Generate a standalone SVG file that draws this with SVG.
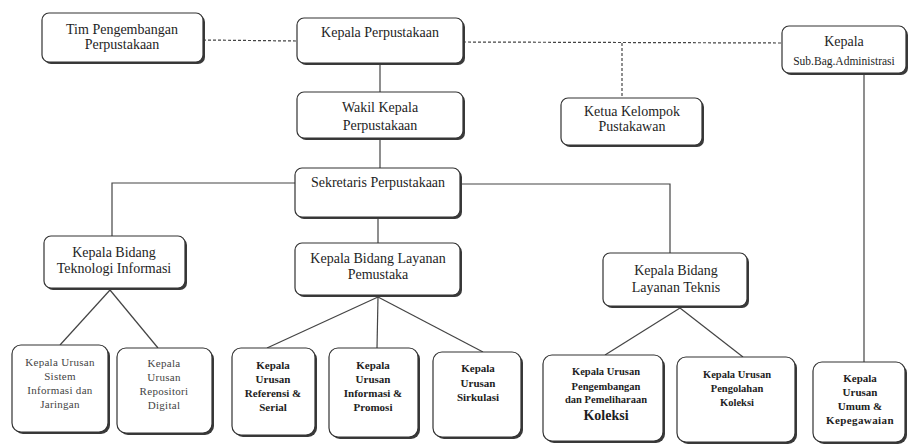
<svg xmlns="http://www.w3.org/2000/svg" width="911" height="445" viewBox="0 0 911 445">
<style>
.sh{fill:#3a3a3a}
.bx{fill:#fff;stroke:#333;stroke-width:1.2}
.t{fill:#1e1e1e;text-anchor:middle;font-size:14px}
.s{fill:#444;text-anchor:middle;font-size:11px;letter-spacing:0.3px}
.b{fill:#222;text-anchor:middle;font-size:11px;font-weight:bold}
.c{fill:#222;text-anchor:middle;font-size:10.5px;font-weight:bold}
.ln{stroke:#444;stroke-width:1.2;fill:none}
.dl{stroke:#444;stroke-width:1.2;fill:none;stroke-dasharray:3 2}
</style>
<rect width="911" height="445" fill="#fff"/>
<g font-family="Liberation Serif" style="font-family:'Liberation Serif',serif">
<g id="connectors">
<line class="dl" x1="203" y1="40" x2="297" y2="41"/>
<line class="dl" x1="463" y1="42" x2="782" y2="43"/>
<line class="dl" x1="622" y1="43" x2="622" y2="98"/>
<line class="ln" x1="380" y1="63" x2="380" y2="92"/>
<line class="ln" x1="380" y1="138" x2="380" y2="168"/>
<polyline class="ln" points="295,183 112,183 112,236"/>
<polyline class="ln" points="460,184 670,184 670,253"/>
<line class="ln" x1="378" y1="217" x2="378" y2="243"/>
<line class="ln" x1="864" y1="73" x2="864" y2="362"/>
<line class="ln" x1="110" y1="290" x2="60" y2="345"/>
<line class="ln" x1="110" y1="290" x2="158" y2="348"/>
<line class="ln" x1="378" y1="297" x2="267" y2="348"/>
<line class="ln" x1="378" y1="297" x2="377" y2="348"/>
<line class="ln" x1="378" y1="297" x2="483" y2="352"/>
<line class="ln" x1="680" y1="308" x2="605" y2="355"/>
<line class="ln" x1="680" y1="308" x2="743" y2="357"/>
</g>
<g id="tim">
<rect class="sh" x="44" y="15" width="161" height="49" rx="7"/>
<rect class="bx" x="42" y="13" width="161" height="49" rx="7"/>
<text class="t" x="122" y="34">Tim Pengembangan</text>
<text class="t" x="122" y="49">Perpustakaan</text>
</g>
<g id="kepala">
<rect class="sh" x="299" y="20" width="166" height="45" rx="7"/>
<rect class="bx" x="297" y="18" width="166" height="45" rx="7"/>
<text class="t" x="380" y="37">Kepala Perpustakaan</text>
</g>
<g id="subbag">
<rect class="sh" x="784" y="28" width="124" height="47" rx="7"/>
<rect class="bx" x="782" y="26" width="124" height="47" rx="7"/>
<text class="t" x="844" y="46">Kepala</text>
<text class="t" x="844" y="65" style="font-size:11.5px">Sub.Bag.Administrasi</text>
</g>
<g id="wakil">
<rect class="sh" x="299" y="94" width="166" height="46" rx="7"/>
<rect class="bx" x="297" y="92" width="166" height="46" rx="7"/>
<text class="t" x="380" y="112">Wakil Kepala</text>
<text class="t" x="380" y="130">Perpustakaan</text>
</g>
<g id="ketua">
<rect class="sh" x="563" y="100" width="141" height="47" rx="7"/>
<rect class="bx" x="561" y="98" width="141" height="47" rx="7"/>
<text class="t" x="632" y="116">Ketua Kelompok</text>
<text class="t" x="632" y="131">Pustakawan</text>
</g>
<g id="sekretaris">
<rect class="sh" x="297" y="170" width="165" height="49" rx="7"/>
<rect class="bx" x="295" y="168" width="165" height="49" rx="7"/>
<text class="t" x="378" y="187">Sekretaris Perpustakaan</text>
</g>
<g id="bid-ti">
<rect class="sh" x="46" y="238" width="141" height="52" rx="7"/>
<rect class="bx" x="44" y="236" width="141" height="52" rx="7"/>
<text class="t" x="114" y="257">Kepala Bidang</text>
<text class="t" x="114" y="273">Teknologi Informasi</text>
</g>
<g id="bid-pemustaka">
<rect class="sh" x="297" y="245" width="165" height="52" rx="7"/>
<rect class="bx" x="295" y="243" width="165" height="52" rx="7"/>
<text class="t" x="378" y="263">Kepala Bidang Layanan</text>
<text class="t" x="378" y="279">Pemustaka</text>
</g>
<g id="bid-teknis">
<rect class="sh" x="605" y="255" width="144" height="53" rx="7"/>
<rect class="bx" x="603" y="253" width="144" height="53" rx="7"/>
<text class="t" x="676" y="275">Kepala Bidang</text>
<text class="t" x="676" y="292">Layanan Teknis</text>
</g>
<g id="ur-sistem">
<rect class="sh" x="14" y="347" width="96" height="87" rx="9"/>
<rect class="bx" x="12" y="345" width="96" height="87" rx="9"/>
<text class="s" x="60" y="366">Kepala Urusan</text>
<text class="s" x="60" y="380">Sistem</text>
<text class="s" x="60" y="394">Informasi dan</text>
<text class="s" x="60" y="408">Jaringan</text>
</g>
<g id="ur-repositori">
<rect class="sh" x="119" y="350" width="95" height="85" rx="9"/>
<rect class="bx" x="117" y="348" width="95" height="85" rx="9"/>
<text class="s" x="164" y="367">Kepala</text>
<text class="s" x="164" y="381">Urusan</text>
<text class="s" x="164" y="395">Repositori</text>
<text class="s" x="164" y="409">Digital</text>
</g>
<g id="ur-referensi">
<rect class="sh" x="234" y="350" width="83" height="87" rx="9"/>
<rect class="bx" x="232" y="348" width="83" height="87" rx="9"/>
<text class="b" x="273" y="369">Kepala</text>
<text class="b" x="273" y="383">Urusan</text>
<text class="b" x="273" y="397">Referensi &amp;</text>
<text class="b" x="273" y="411">Serial</text>
</g>
<g id="ur-informasi">
<rect class="sh" x="331" y="350" width="89" height="89" rx="9"/>
<rect class="bx" x="329" y="348" width="89" height="89" rx="9"/>
<text class="b" x="373" y="369">Kepala</text>
<text class="b" x="373" y="383">Urusan</text>
<text class="b" x="373" y="397">Informasi &amp;</text>
<text class="b" x="373" y="411">Promosi</text>
</g>
<g id="ur-sirkulasi">
<rect class="sh" x="435" y="354" width="88" height="85" rx="9"/>
<rect class="bx" x="433" y="352" width="88" height="85" rx="9"/>
<text class="b" x="478" y="372">Kepala</text>
<text class="b" x="478" y="387">Urusan</text>
<text class="b" x="478" y="401">Sirkulasi</text>
</g>
<g id="ur-pengembangan">
<rect class="sh" x="545" y="357" width="120" height="86" rx="9"/>
<rect class="bx" x="543" y="355" width="120" height="86" rx="9"/>
<text class="c" x="606" y="375">Kepala Urusan</text>
<text class="c" x="606" y="390">Pengembangan</text>
<text class="c" x="606" y="403">dan Pemeliharaan</text>
<text class="t" x="606" y="420" style="font-weight:bold">Koleksi</text>
</g>
<g id="ur-pengolahan">
<rect class="sh" x="679" y="359" width="118" height="85" rx="9"/>
<rect class="bx" x="677" y="357" width="118" height="85" rx="9"/>
<text class="c" x="737" y="378">Kepala Urusan</text>
<text class="c" x="737" y="392">Pengolahan</text>
<text class="c" x="737" y="406">Koleksi</text>
</g>
<g id="ur-umum">
<rect class="sh" x="815" y="364" width="92" height="80" rx="9"/>
<rect class="bx" x="813" y="362" width="92" height="80" rx="9"/>
<text class="b" x="860" y="382">Kepala</text>
<text class="b" x="860" y="396">Urusan</text>
<text class="b" x="860" y="410">Umum &amp;</text>
<text class="b" x="860" y="424" style="letter-spacing:0.4px">Kepegawaian</text>
</g>
</g>
</svg>
